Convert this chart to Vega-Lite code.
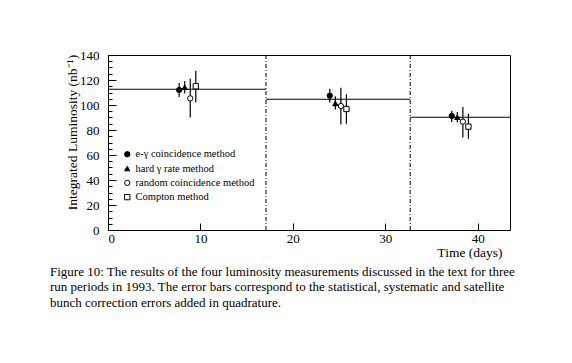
{
  "$schema": "https://vega.github.io/schema/vega-lite/v6.json",
  "width": 402,
  "height": 175,
  "autosize": {"type": "none"},
  "padding": {"left": 108, "top": 55, "right": 62, "bottom": 133},
  "background": "white",
  "datasets": {
    "points": [
      {"method": "e-γ coincidence method", "x": 7.7, "y": 112.0, "lo": 106.4, "hi": 117.6},
      {"method": "hard γ rate method", "x": 8.3, "y": 114.2, "lo": 109.2, "hi": 119.2},
      {"method": "random coincidence method", "x": 8.9, "y": 105.3, "lo": 90.0, "hi": 121.0},
      {"method": "Compton method", "x": 9.5, "y": 115.0, "lo": 102.0, "hi": 127.5},
      {"method": "e-γ coincidence method", "x": 24.0, "y": 107.5, "lo": 102.0, "hi": 113.0},
      {"method": "hard γ rate method", "x": 24.6, "y": 101.3, "lo": 96.5, "hi": 107.0},
      {"method": "random coincidence method", "x": 25.2, "y": 99.2, "lo": 84.5, "hi": 113.8},
      {"method": "Compton method", "x": 25.8, "y": 96.8, "lo": 85.0, "hi": 108.5},
      {"method": "e-γ coincidence method", "x": 37.2, "y": 91.2, "lo": 86.5, "hi": 95.5},
      {"method": "hard γ rate method", "x": 37.8, "y": 90.2, "lo": 86.0, "hi": 94.5},
      {"method": "random coincidence method", "x": 38.4, "y": 86.7, "lo": 74.0, "hi": 98.5},
      {"method": "Compton method", "x": 39.0, "y": 82.7, "lo": 73.0, "hi": 93.0}
    ],
    "periods": [
      {"start": 0, "end": 17.1, "lum": 112.6},
      {"start": 17.1, "end": 32.7, "lum": 104.6},
      {"start": 32.7, "end": 43.5, "lum": 90.2}
    ],
    "dividers": [{"t": 17.1}, {"t": 32.7}]
  },
  "config": {
    "font": "Liberation Serif",
    "view": {"stroke": "black", "strokeWidth": 1},
    "axis": {
      "domainColor": "black",
      "tickColor": "black",
      "labelColor": "black",
      "titleColor": "black",
      "labelFont": "Liberation Serif",
      "titleFont": "Liberation Serif",
      "labelFontSize": 13,
      "titleFontSize": 13.5,
      "titleFontWeight": "normal",
      "grid": false
    },
    "legend": {
      "labelFont": "Liberation Serif",
      "labelFontSize": 10.5,
      "labelColor": "black",
      "symbolStrokeWidth": 1
    }
  },
  "title": {
    "text": [
      "Figure 10:  The results of the four luminosity measurements discussed in the text for three",
      "run periods in 1993.  The error bars correspond to the statistical, systematic and satellite",
      "bunch correction errors added in quadrature."
    ],
    "orient": "bottom",
    "anchor": "start",
    "frame": "group",
    "dx": -58,
    "offset": 7,
    "font": "Liberation Serif",
    "fontSize": 13,
    "fontWeight": "normal",
    "color": "black",
    "lineHeight": 15.5
  },
  "resolve": {"axis": {"y": "independent"}},
  "layer": [
    {
      "data": {"name": "dividers"},
      "mark": {"type": "rule", "color": "black", "strokeWidth": 1, "strokeDash": [4, 2, 1, 2]},
      "encoding": {
        "x": {"field": "t", "type": "quantitative", "scale": {"domain": [0, 43.5], "nice": false},
              "axis": {"values": [0, 10, 20, 30, 40], "tickSize": -7, "labelPadding": 9, "title": "Time (days)", "titleX": 394, "titleAlign": "right", "titleAnchor": "end", "titlePadding": 0}}
      }
    },
    {
      "data": {"name": "periods"},
      "mark": {"type": "rule", "color": "black", "strokeWidth": 1.2},
      "encoding": {
        "x": {"field": "start", "type": "quantitative"},
        "x2": {"field": "end"},
        "y": {"field": "lum", "type": "quantitative", "scale": {"domain": [0, 140], "nice": false},
              "axis": {"values": [0, 20, 40, 60, 80, 100, 120, 140], "tickSize": -8, "labelPadding": 17, "orient": "left",
                       "title": "Integrated Luminosity (nb⁻¹)", "titlePadding": 0, "titleY": 77}}
      }
    },
    {
      "data": {"name": "points"},
      "mark": {"type": "rule", "color": "black", "strokeWidth": 1.2},
      "encoding": {
        "x": {"field": "x", "type": "quantitative"},
        "y": {"field": "lo", "type": "quantitative",
              "axis": {"values": [5,10,15,25,30,35,45,50,55,65,70,75,85,90,95,105,110,115,125,130,135], "tickSize": -4, "labels": false, "domain": false, "orient": "left", "title": null}},
        "y2": {"field": "hi"}
      }
    },
    {
      "data": {"name": "points"},
      "mark": {"type": "point", "strokeWidth": 1, "opacity": 1, "size": 28},
      "encoding": {
        "x": {"field": "x", "type": "quantitative"},
        "y": {"field": "y", "type": "quantitative", "axis": null},
        "shape": {"field": "method", "type": "nominal",
                  "scale": {"domain": ["e-γ coincidence method", "hard γ rate method", "random coincidence method", "Compton method"],
                            "range": ["circle", "triangle-up", "circle", "square"]},
                  "legend": {"title": null, "orient": "none", "legendX": 14, "legendY": 94, "padding": 0, "rowPadding": 3.3, "symbolSize": 28, "labelOffset": 3}},
        "fill": {"field": "method", "type": "nominal",
                 "scale": {"domain": ["e-γ coincidence method", "hard γ rate method", "random coincidence method", "Compton method"],
                           "range": ["black", "black", "white", "white"]},
                 "legend": {"title": null, "orient": "none", "legendX": 14, "legendY": 94, "padding": 0, "rowPadding": 3.3, "symbolSize": 28, "labelOffset": 3}},
        "stroke": {"field": "method", "type": "nominal",
                   "scale": {"domain": ["e-γ coincidence method", "hard γ rate method", "random coincidence method", "Compton method"],
                             "range": ["black", "black", "black", "black"]},
                   "legend": {"title": null, "orient": "none", "legendX": 14, "legendY": 94, "padding": 0, "rowPadding": 3.3, "symbolSize": 28, "labelOffset": 3}}
      }
    }
  ]
}
